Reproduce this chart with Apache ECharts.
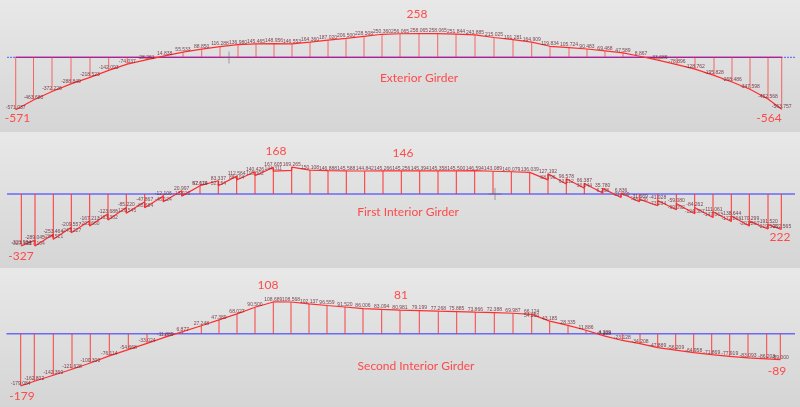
<!DOCTYPE html>
<html>
<head>
<meta charset="utf-8">
<style>
html,body{margin:0;padding:0;background:#e4e4e4;overflow:hidden}
#chart{width:800px;height:407px;filter:blur(0.3px)}
</style>
<script src="https://cdn.jsdelivr.net/npm/echarts@6/dist/echarts.min.js"></script>
</head>
<body>
<div id="chart"></div>
<script>
// Exterior girder
const extStations = [15.7,33.5,52,71,90,108.7,127.3,146,164.7,183,201.7,220,238,256,274,292,310,328,346,364,382,400,419,437.7,456,475,494,513,531.7,550,569,587,605,623,641,659,677,695,714,732,750,768,781.7];
const extMoments = [-571.037,-463.680,-372.226,-288.849,-218.523,-142.093,-74.037,-28.261,14.838,55.533,88.850,116.288,136.980,145.465,148.956,146.553,164.360,187.020,206.500,228.508,250.360,256.065,258.065,258.065,251.844,243.885,215.025,191.281,164.909,119.834,105.724,90.483,69.468,47.589,8.867,-33.686,-78.896,-128.762,-195.828,-268.486,-347.598,-452.568,-563.757];

// First interior girder: moment just left of each station (arrive) and just right of it (depart)
const firstStations = [21.3,35,53.3,71.3,89.7,108,126.3,144.7,163.3,181.7,200,218.3,236.7,255,273.3,291.7,310,328,346.3,364.7,383,401.3,419.7,438,456.3,474.7,493,511.3,529.7,548,566.3,584.3,602.7,621,639.3,657.7,676.3,694.7,713,731.3,749.3,768,781.3];
const firstArrive = [-321.984,-289.045,-253.464,-209.557,-167.213,-123.686,-85.220,-47.867,-12.106,20.997,52.619,83.337,112.564,140.426,167.605,149.265,150.108,146.888,145.588,144.842,145.266,145.256,145.394,145.358,145.500,146.594,143.089,140.079,136.039,88.796,63.112,36.544,6.268,-21.409,-48.136,-73.284,-99.092,-124.381,-147.063,-172.866,-201.260,-219.508,-222.565];
const firstDepart = [-327.108,-327.104,-284.521,-243.227,-201.660,-163.382,-120.545,-85.684,-48.124,-13.020,47.124,52.154,88.104,115.302,144.311,169.265,150.108,146.888,145.588,144.842,145.266,145.256,145.394,145.358,145.500,146.594,143.089,140.079,136.039,127.192,96.578,66.387,35.780,6.836,-31.669,-41.028,-59.080,-84.262,-111.061,-138.644,-170.299,-191.520,-222.565];

// Second interior girder
const secondStations = [20.7,34.3,53.3,72,90.3,109.3,128.3,147,165.3,182.7,201.3,219,237,255,273.3,291,309,327,345,363,381.7,400,419.3,438.3,456.7,475.3,494.3,513,531.7,549.7,568,586,604,622.3,640,657.7,675.7,693.7,711.7,729.7,748,766.7,780.3];
const secondMoments = [-179.084,-162.802,-142.360,-121.628,-100.300,-76.114,-54.668,-33.024,-11.889,6.877,27.248,47.389,68.027,90.500,108.689,108.568,102.137,96.559,91.520,86.006,83.094,80.981,79.199,77.268,75.885,73.866,72.388,69.987,66.124,43.185,28.335,11.886,-7.308,-23.128,-34.208,-47.889,-56.209,-64.958,-71.869,-77.919,-83.093,-86.208,-89.000];
const secondExtraStations = [531.7,604];
const secondExtraMoments = [54.250,-4.209];

const extDatum = [7,795], firstDatum = [7,795], secondDatum = [6.5,795];

const girderNames = ['Exterior Girder','First Interior Girder','Second Interior Girder'];
const callouts = ['258','-571','-564','168','146','-327','222','108','81','-179','-89'];

const RED = '#ff2e2e', BLUE = '#6a6af5', LABEL = '#5a1626';

const zip = (xs, ys) => xs.map((x, i) => [x, ys[i]]);
const sawPath = (xs, arr, dep) => {
  const out = [];
  xs.forEach((x, i) => { if (i > 0) out.push([x, arr[i]]); out.push([x, dep[i]]); });
  return out;
};
const stemSeries = (grid, pts, opacity) => ({
  type: 'custom', xAxisIndex: grid, yAxisIndex: grid, silent: true, z: 3,
  data: pts,
  renderItem: (p, api) => {
    const a = api.coord([api.value(0), 0]), b = api.coord([api.value(0), api.value(1)]);
    return { type: 'line', shape: { x1: a[0], y1: a[1], x2: b[0], y2: b[1] },
             style: { stroke: '#ff3030', lineWidth: 1, opacity } };
  }
});
const curveSeries = (grid, pts) => ({
  type: 'line', xAxisIndex: grid, yAxisIndex: grid, data: pts, showSymbol: false, silent: true, z: 4,
  lineStyle: { color: RED, width: 1.2 }
});
const labelSeries = (grid, pts, color) => ({
  type: 'scatter', xAxisIndex: grid, yAxisIndex: grid, data: pts, symbolSize: 0, silent: true, z: 5,
  label: { show: true, position: 'top', distance: 0, fontSize: 5, color: color || LABEL,
           fontFamily: '"Liberation Sans Narrow","Liberation Sans"',
           formatter: p => p.value[1].toFixed(3) }
});
const datumSeries = (grid, xr, style, yOff) => ({
  type: 'line', xAxisIndex: grid, yAxisIndex: grid, data: [[xr[0], yOff || 0], [xr[1], yOff || 0]], showSymbol: false, silent: true, z: 2,
  lineStyle: style
});
const bg = () => new echarts.graphic.LinearGradient(0, 0, 0, 1, [
  { offset: 0, color: '#e8e8e8' }, { offset: 1, color: '#d5d5d5' }
]);
const grids = [
  { left: 0, right: 0, top: 0, height: 132, show: true, borderWidth: 0, backgroundColor: bg() },
  { left: 0, right: 0, top: 132, height: 136, show: true, borderWidth: 0, backgroundColor: bg() },
  { left: 0, right: 0, top: 268, height: 139, show: true, borderWidth: 0, backgroundColor: bg() }
];
const xAxes = [0, 1, 2].map(i => ({ gridIndex: i, type: 'value', min: 0, max: 800, show: false }));
const yAxes = [
  { gridIndex: 0, type: 'value', min: -812, max: 623, show: false },
  { gridIndex: 1, type: 'value', min: -465, max: 390, show: false },
  { gridIndex: 2, type: 'value', min: -251, max: 225, show: false }
];

const firstStems = firstStations.map((x, i) =>
  [x, Math.abs(firstDepart[i]) > Math.abs(firstArrive[i]) ? firstDepart[i] : firstArrive[i]]);
const firstUpper = firstStations.map((x, i) => [x, Math.max(firstArrive[i], firstDepart[i])]);
const firstLower = firstStations.map((x, i) => [x, Math.min(firstArrive[i], firstDepart[i])])
  .filter((p, i) => firstArrive[i] !== firstDepart[i] && !(firstStations[i] > 285 && firstStations[i] < 295));

const text = (s, cx, cy, size) => ({
  type: 'text', x: cx, y: cy, silent: true, z: 20,
  style: { text: s, fill: '#ff4a4a', font: size + 'px Lato', align: 'center', verticalAlign: 'middle' }
});
const cross = (cx, cy) => [
  { type: 'line', silent: true, z: 19, shape: { x1: cx - 6.5, y1: cy, x2: cx + 6.5, y2: cy }, style: { stroke: '#6a5a80', lineWidth: 1, opacity: 0.55 } },
  { type: 'line', silent: true, z: 19, shape: { x1: cx, y1: cy - 6, x2: cx, y2: cy + 6 }, style: { stroke: '#6a5a80', lineWidth: 1, opacity: 0.55 } }
];

const option = {
  animation: false,
  grid: grids, xAxis: xAxes, yAxis: yAxes,
  series: [
    datumSeries(0, extDatum, { color: '#5a5aff', width: 1, type: [2, 1] }),
    datumSeries(0, [extStations[0], extStations[extStations.length - 1]], { color: '#8a2ab8', width: 1.4 }),
    datumSeries(0, [extStations[0], extStations[extStations.length - 1]], { color: '#ff8a8a', width: 1, opacity: 0.7 }, 9),
    stemSeries(0, zip(extStations, extMoments), 0.7),
    curveSeries(0, zip(extStations, extMoments)),
    labelSeries(0, zip(extStations, extMoments)),

    datumSeries(1, firstDatum, { color: BLUE, width: 1.6 }),
    stemSeries(1, firstStems, 1),
    curveSeries(1, sawPath(firstStations, firstArrive, firstDepart)),
    labelSeries(1, firstUpper),
    labelSeries(1, firstLower, '#7a3040'),

    datumSeries(2, secondDatum, { color: BLUE, width: 1.6 }),
    stemSeries(2, zip(secondStations, secondMoments), 0.9),
    curveSeries(2, zip(secondStations, secondMoments)),
    labelSeries(2, zip(secondStations, secondMoments)),
    labelSeries(2, zip(secondExtraStations, secondExtraMoments))
  ],
  graphic: [
    text(girderNames[0], 419, 78, 12),
    text(girderNames[1], 408, 212, 12),
    text(girderNames[2], 416, 366, 12),
    text(callouts[0], 417, 14, 12),
    text(callouts[1], 17.5, 118, 12),
    text(callouts[2], 769, 118.5, 12),
    text(callouts[3], 276, 151, 12),
    text(callouts[4], 403, 153, 12),
    text(callouts[5], 21, 256, 12),
    text(callouts[6], 780, 237, 12),
    text(callouts[7], 268, 285, 12),
    text(callouts[8], 401, 295, 12),
    text(callouts[9], 22, 396, 12),
    text(callouts[10], 777, 371, 12),
    ...cross(229, 57.5),
    ...cross(495, 194)
  ]
};
const chart = echarts.init(document.getElementById('chart'), null, { renderer: 'canvas' });
chart.setOption(option);
</script>
</body>
</html>
